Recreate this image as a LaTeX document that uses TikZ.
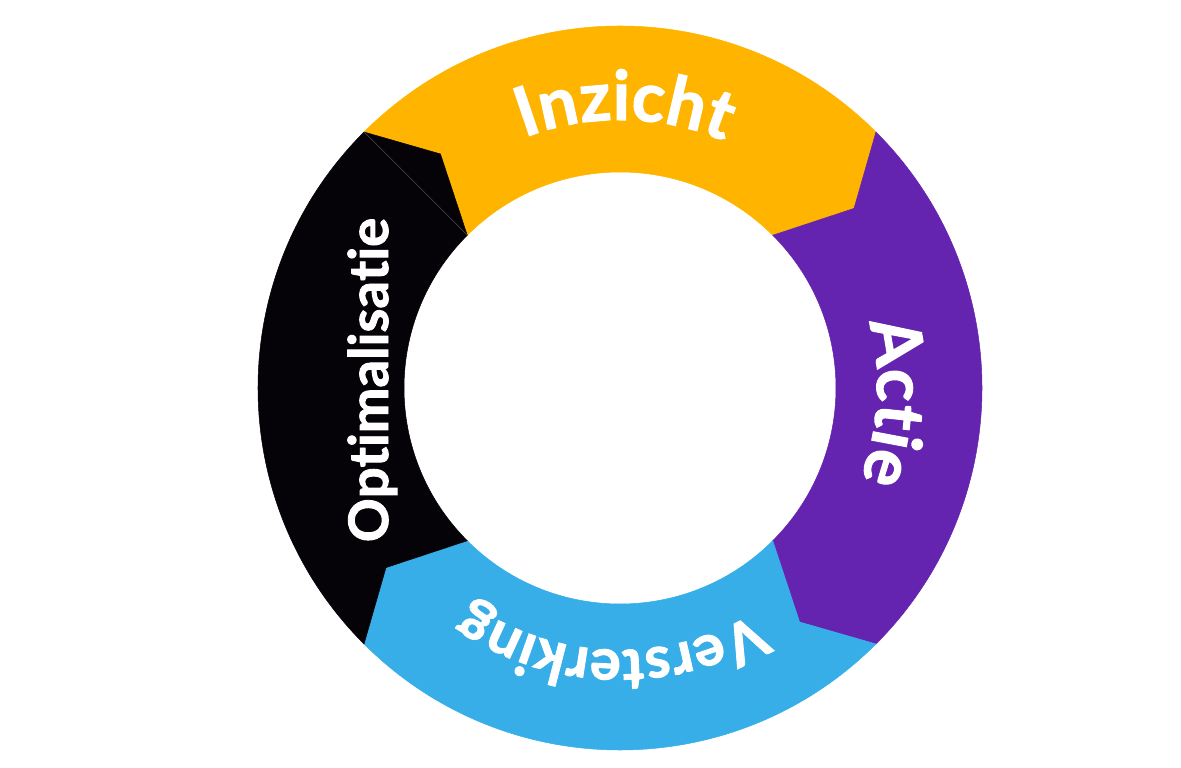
\documentclass[tikz,border=0pt]{standalone}
\usepackage{fontspec}
\setmainfont{Lato}[BoldFeatures={FakeBold=1.6}]
\usetikzlibrary{decorations.text}
\definecolor{inzichtgeel}{RGB}{255,180,0}
\definecolor{actiepaars}{RGB}{100,36,175}
\definecolor{versterkingblauw}{RGB}{56,174,232}
\definecolor{optimalisatiezwart}{RGB}{5,3,8}

\begin{document}
\begin{tikzpicture}[
  x=0.02cm, y=0.02cm,
  segment/.style={fill=#1, draw=#1, line width=0.3pt},
  ringtext/.style={decorate, decoration={text along path, text align=center, text={#1}}}
]
\useasboundingbox (0,0) rectangle (1181,768);
\begin{scope}[shift={(620,380)}]
\def\Ro{362} \def\Ri{216} \def\Rt{295} \def\tip{7.5}
\foreach \s/\col in {135/inzichtgeel, 45/actiepaars, -45/versterkingblauw, -135/optimalisatiezwart}{
  \path[segment=\col] (\s:\Ro) arc[start angle=\s, end angle=\s-90, radius=\Ro]
    -- ({\s-90-\tip}:\Rt) -- ({\s-90}:\Ri)
    arc[start angle=\s-90, end angle=\s, radius=\Ri]
    -- ({\s-\tip}:\Rt) -- cycle;
}
\draw[black!75!white, line width=0.4pt] (135:\Ro) -- (135:\Ri);

\path[ringtext={|\fontsize{39}{42}\selectfont\bfseries\color{white}|Inzicht}]
  (149:268) arc[start angle=149, end angle=29, radius=268];
\path[ringtext={|\fontsize{39}{42}\selectfont\bfseries\color{white}|Actie}]
  (57:257) arc[start angle=57, end angle=-63, radius=257];
\path[ringtext={|\fontsize{33}{36}\selectfont\bfseries\color{white}|Versterking}]
  (-31:262) arc[start angle=-31, end angle=-153, radius=262];
\path[ringtext={|\fontsize{31}{34}\selectfont\bfseries\color{white}|Optimalisatie}]
  (-232,-200) -- (-232,216);
\end{scope}
\end{tikzpicture}
\end{document}
